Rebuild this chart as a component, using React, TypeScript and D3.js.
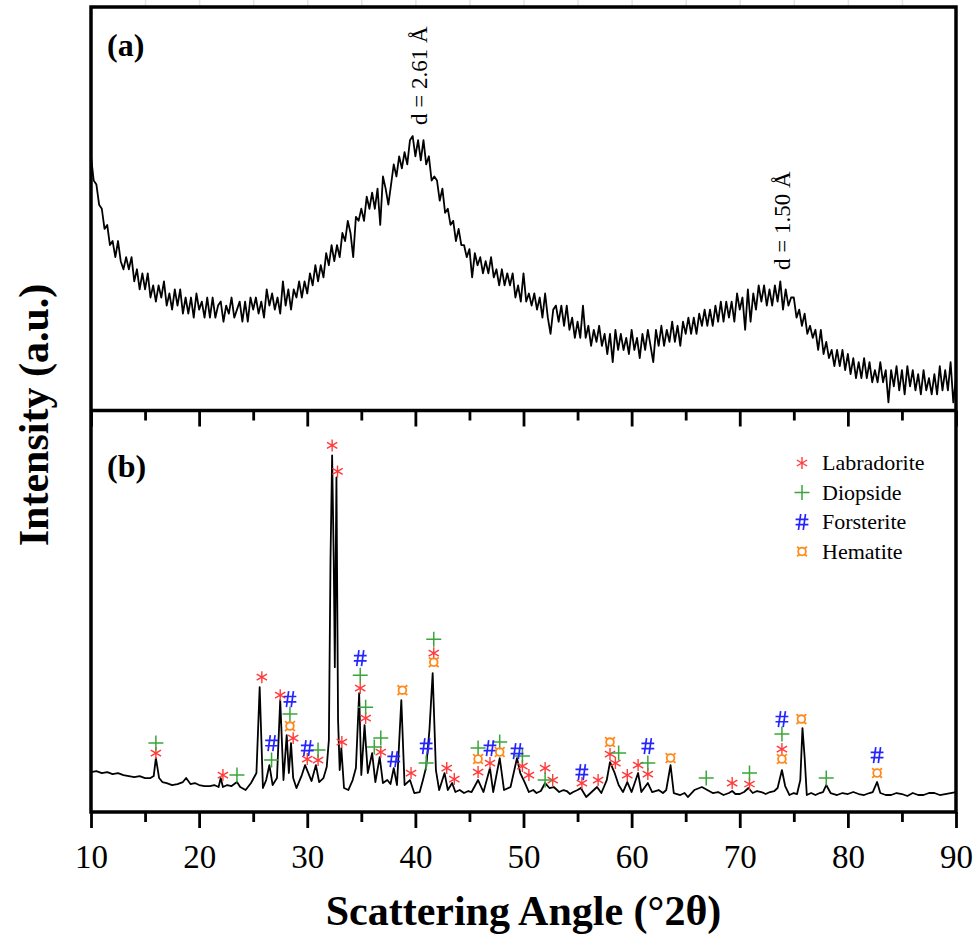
import React, { useRef, useEffect } from 'react';
import * as d3 from 'd3';

// (a) amorphous pattern, one reading every 0.25 deg from 10 to 90 (a.u., 0-100)
const topIntensity = [
  63, 57, 56, 51, 50, 45, 46, 41, 42, 38, 42, 37, 35, 38, 35, 38,
  32, 35, 30, 34, 30, 34, 28, 31, 27, 31, 28, 32, 26, 29, 25, 30,
  26, 30, 24, 28, 24, 28, 23, 29, 25, 27, 23, 28, 23, 28, 23, 26,
  27, 22, 26, 24, 28, 23, 25, 27, 22, 27, 22, 28, 25, 28, 24, 27,
  23, 30, 26, 29, 25, 28, 24, 32, 26, 30, 25, 30, 28, 32, 28, 32,
  29, 34, 31, 36, 32, 36, 33, 39, 36, 41, 37, 41, 38, 44, 42, 47,
  44, 38, 48, 47, 50, 47, 53, 50, 54, 50, 55, 46, 58, 55, 51, 56,
  61, 58, 63, 60, 64, 61, 67, 68, 63, 67, 62, 67, 61, 63, 57, 58,
  57, 52, 55, 49, 50, 46, 47, 42, 45, 41, 41, 38, 40, 33, 39, 36,
  38, 34, 37, 34, 38, 33, 35, 31, 35, 31, 34, 31, 34, 28, 31, 27,
  34, 27, 29, 26, 29, 25, 28, 23, 29, 23, 19, 25, 26, 22, 26, 21,
  26, 20, 23, 18, 22, 18, 26, 18, 21, 16, 20, 17, 21, 16, 19, 14,
  19, 12, 20, 15, 19, 15, 18, 14, 20, 15, 18, 13, 19, 15, 20, 16,
  12, 20, 16, 21, 16, 20, 17, 22, 17, 21, 16, 22, 19, 23, 19, 23,
  19, 24, 21, 25, 21, 25, 21, 26, 22, 27, 22, 27, 23, 27, 22, 29,
  25, 28, 20, 30, 22, 29, 25, 31, 27, 31, 26, 30, 26, 31, 27, 32,
  25, 30, 26, 28, 28, 23, 25, 21, 24, 19, 21, 18, 20, 15, 20, 14,
  17, 13, 15, 11, 15, 11, 15, 10, 14, 9, 13, 8, 12, 8, 13, 8,
  12, 7, 10, 7, 12, 7, 10, 2, 10, 6, 11, 5, 10, 4, 11, 6,
  10, 5, 9, 4, 10, 5, 8, 4, 9, 4, 11, 5, 10, 5, 12, 2,
  8,
];

// (b) crystalline pattern (counts)
const bottomAngle = [
  10, 10.5, 11, 11.5, 12, 12.5, 13, 13.5, 14, 14.5, 15, 15.5, 15.8, 16, 16.3, 16.6, 17, 17.5, 18, 18.5, 18.8,
  19.2, 19.6, 20, 20.5, 21, 21.4, 21.8, 22, 22.2, 22.6, 23, 23.5, 23.8, 24.3, 24.8, 25.3, 25.6, 25.9, 26.2, 26.5, 26.8, 27.2, 27.5, 27.8,
  28.1, 28.3, 28.5, 28.7, 29, 29.5, 29.8, 30.1, 30.4, 30.8, 31.1, 31.5, 31.8, 32, 32.15, 32.3, 32.45, 32.55, 32.7, 32.85,
  33, 33.15, 33.4, 33.8, 34.2, 34.5, 34.8, 35, 35.3, 35.6, 36, 36.3, 36.7, 37, 37.4, 37.7, 38, 38.3, 38.7, 39,
  39.5, 39.9, 40.4, 40.7, 41, 41.3, 41.6, 41.9, 42.2, 42.7, 43, 43.4, 43.7, 44.1, 44.5, 44.9, 45.2, 45.8, 46.3, 46.9, 47.2, 47.8,
  48.2, 48.8, 49.4, 49.7, 50.1, 50.5, 50.9, 51.2, 51.6, 52, 52.4, 52.8, 53.3, 53.7, 54, 54.3, 54.6, 55, 55.3, 55.8, 56.3, 56.8, 57.2, 57.7, 58,
  58.4, 58.8, 59.2, 59.6, 60, 60.6, 60.9, 61.5, 61.9, 62.5, 62.9, 63.2, 63.6, 63.9, 64.5, 64.9, 65.2, 65.8, 66.5, 67, 67.5, 68, 68.5,
  69, 69.3, 69.6, 70, 70.4, 70.8, 71.2, 71.6, 72, 72.4, 72.8, 73.2, 73.5, 73.9, 74.2, 74.6, 75, 75.3, 75.6, 75.8, 76, 76.2, 76.6, 77, 77.4, 77.7, 78, 78.4, 79,
  79.5, 80, 80.5, 81, 81.5, 82, 82.3, 82.7, 83, 83.5, 84, 84.5, 85, 85.5, 86, 86.5, 87, 87.5, 88, 88.5, 89, 89.5, 90,
];
const bottomCounts = [
  40, 41, 39, 40, 38, 39, 37, 36, 35, 36, 34, 34, 36, 54, 34, 30, 29, 27, 28, 30, 34,
  28, 29, 27, 26, 26, 27, 25, 34, 25, 27, 26, 30, 25, 22, 29, 39, 125, 24, 32, 47, 27, 34, 112, 32,
  77, 39, 69, 34, 24, 37, 47, 39, 31, 47, 30, 34, 45, 72, 252, 357, 252, 145, 335, 92,
  42, 64, 24, 22, 32, 44, 119, 37, 87, 39, 59, 30, 55, 29, 32, 28, 44, 27, 112, 27,
  32, 19, 20, 32, 45, 82, 139, 42, 22, 39, 22, 29, 20, 22, 19, 21, 20, 32, 20, 44, 20, 54,
  22, 25, 54, 39, 30, 20, 22, 19, 21, 29, 24, 25, 20, 22, 21, 18, 20, 22, 24, 15, 20, 25, 19, 32, 50,
  40, 27, 20, 30, 20, 39, 20, 29, 20, 22, 19, 22, 47, 19, 17, 19, 15, 22, 25, 22, 19, 20, 17,
  19, 21, 18, 18, 20, 24, 19, 21, 20, 18, 20, 21, 24, 42, 26, 17, 19, 18, 32, 84, 55, 17, 19, 17, 19, 20, 27, 19, 17,
  19, 18, 20, 18, 17, 19, 20, 30, 19, 17, 17, 19, 18, 16, 19, 17, 17, 19, 19, 17, 18, 19, 20,
];

// phase markers: angle and height (counts) of each symbol
const labradoriteX = [16.0, 22.2, 25.8, 27.5, 28.7, 30.0, 31.0, 32.3, 32.8, 33.2, 34.9, 35.4, 36.8, 39.6, 41.7, 42.9, 43.6,
  45.8, 46.9, 49.9, 50.5, 52.0, 52.7, 55.4, 56.9, 58.0, 58.5, 59.6, 60.6, 61.5, 69.3, 70.9, 73.9];
const labradoriteY = [59, 37, 135, 117, 74, 53, 52, 367, 341, 70, 124, 94, 60, 39, 159, 44, 33,
  40, 49, 46, 37, 44, 32, 29, 32, 58, 49, 37, 47, 38, 29, 28, 63];
const diopsideX = [16.0, 23.5, 26.7, 28.4, 31.0, 34.9, 35.4, 36.2, 36.8, 41.0, 41.7, 45.8, 47.8, 49.9, 52.0, 58.8, 61.5,
  66.9, 70.9, 73.9, 78.0];
const diopsideY = [69, 37, 52, 98, 62, 137, 105, 65, 74, 49, 173, 64, 70, 56, 32, 59, 49, 34, 39, 78, 34];
const forsteriteX = [26.7, 28.4, 30.0, 34.9, 38.0, 41.0, 46.9, 49.4, 55.4, 61.5, 73.9, 82.7];
const forsteriteY = [69, 113, 64, 154, 53, 66, 64, 61, 40, 66, 93, 57];
const hematiteX = [28.4, 38.8, 41.7, 45.8, 47.8, 58.0, 63.6, 73.9, 75.7, 82.7];
const hematiteY = [86, 122, 150, 53, 60, 70, 54, 53, 93, 39];

const legendNames = ['Labradorite', 'Diopside', 'Forsterite', 'Hematite'];
const phaseColors = ['#ff3b3b', '#3aa53a', '#2424ff', '#ff8a1c'];
const majorTicks = [10, 20, 30, 40, 50, 60, 70, 80, 90];
const minorTicks = [15, 25, 35, 45, 55, 65, 75, 85];

const serif = '"Liberation Serif", "Times New Roman", serif';

// hash sign and currency sign drawn as stroked symbols
const symbolHash = {
  draw(ctx: any, size: number) {
    const h = Math.sqrt(size) / 2;
    const w = h * 0.8;
    ctx.moveTo(-w * 0.2, -h); ctx.lineTo(-w * 0.55, h);
    ctx.moveTo(w * 0.55, -h); ctx.lineTo(w * 0.2, h);
    ctx.moveTo(-w, -h * 0.33); ctx.lineTo(w, -h * 0.33);
    ctx.moveTo(-w, h * 0.33); ctx.lineTo(w, h * 0.33);
  },
};
const symbolCurrency = {
  draw(ctx: any, size: number) {
    const r = Math.sqrt(size) / 2;
    const c = r * 0.55;
    ctx.moveTo(c, 0);
    ctx.arc(0, 0, c, 0, 2 * Math.PI);
    const d = r * 0.7;
    [[1, 1], [1, -1], [-1, 1], [-1, -1]].forEach(([sx, sy]) => {
      ctx.moveTo(sx * c * 0.7, sy * c * 0.7);
      ctx.lineTo(sx * d, sy * d);
    });
  },
};

const App = () => {
  const svgRef = useRef<SVGSVGElement>(null);

  useEffect(() => {
    const svg = d3.select(svgRef.current);
    svg.selectAll('*').remove();

    const left = 91, right = 956, top = 7, mid = 410.5, bottom = 812;

    const x = d3.scaleLinear().domain([10, 90]).range([left, right]);
    const yTop = d3.scaleLinear().domain([0, 100]).range([mid, top]);
    const yBot = d3.scaleLinear().domain([0, 402]).range([bottom, mid]);

    const topX = d3.range(topIntensity.length).map(i => 10 + i * 0.25);

    // faint ticks above the frame
    svg.append('g')
      .attr('transform', `translate(0,${top})`)
      .call(d3.axisTop(x).tickValues(d3.range(15, 90, 5)).tickSize(7).tickFormat(() => '').tickSizeOuter(0))
      .call(g => g.select('.domain').remove())
      .call(g => g.selectAll('line').attr('stroke', '#e4e4e4').attr('stroke-width', 1.5));

    // curves
    const lineTop = d3.line<number>().x((d, i) => x(topX[i])).y(d => yTop(d));
    svg.append('path')
      .attr('d', lineTop(topIntensity))
      .attr('fill', 'none')
      .attr('stroke', '#000')
      .attr('stroke-width', 1.8)
      .attr('stroke-linejoin', 'round');

    const lineBot = d3.line<number>().x((d, i) => x(bottomAngle[i])).y(d => yBot(d));
    svg.append('path')
      .attr('d', lineBot(bottomCounts))
      .attr('fill', 'none')
      .attr('stroke', '#000')
      .attr('stroke-width', 1.8)
      .attr('stroke-linejoin', 'round');

    // axes with outward ticks (middle divider and bottom)
    [mid, bottom].forEach((yPos, k) => {
      svg.append('g')
        .attr('transform', `translate(0,${yPos})`)
        .call(d3.axisBottom(x).tickValues(minorTicks).tickSize(10).tickFormat(() => '').tickSizeOuter(0))
        .call(g => g.select('.domain').remove())
        .call(g => g.selectAll('line').attr('stroke', '#000').attr('stroke-width', 2.8));
      const major = svg.append('g')
        .attr('transform', `translate(0,${yPos})`)
        .call(d3.axisBottom(x).tickValues(majorTicks).tickSize(16).tickSizeOuter(0))
        .call(g => g.select('.domain').remove())
        .call(g => g.selectAll('line').attr('stroke', '#000').attr('stroke-width', 2.8));
      if (k === 1) {
        major.selectAll('text')
          .attr('y', 56)
          .attr('dy', 0)
          .attr('fill', '#000')
          .style('font-family', serif)
          .style('font-size', '33px');
      } else {
        major.selectAll('text').remove();
      }
    });

    // frame
    svg.append('rect')
      .attr('x', left).attr('y', top)
      .attr('width', right - left).attr('height', bottom - top)
      .attr('fill', 'none').attr('stroke', '#000').attr('stroke-width', 3.5);
    svg.append('line')
      .attr('x1', left).attr('x2', right).attr('y1', mid).attr('y2', mid)
      .attr('stroke', '#000').attr('stroke-width', 3.5);

    // markers
    const symbolTypes: any[] = [d3.symbolAsterisk, d3.symbolPlus, symbolHash, symbolCurrency];
    const symbolSizes = [100, 75, 256, 196];
    const symbolWidths = [1.4, 1.5, 1.7, 1.8];
    const drawMark = (g: any, idx: number, px: number, py: number) => {
      g.append('path')
        .attr('d', d3.symbol(symbolTypes[idx], symbolSizes[idx])())
        .attr('transform', `translate(${px},${py})`)
        .attr('fill', 'none')
        .attr('stroke', phaseColors[idx])
        .attr('stroke-width', symbolWidths[idx]);
    };
    const markers = svg.append('g');
    const phases: [number[], number[]][] = [
      [labradoriteX, labradoriteY], [diopsideX, diopsideY], [forsteriteX, forsteriteY], [hematiteX, hematiteY],
    ];
    phases.forEach(([xs, ys], idx) => {
      xs.forEach((v, i) => drawMark(markers, idx, x(v), yBot(ys[i])));
    });

    // legend
    const legend = svg.append('g');
    legendNames.forEach((name, idx) => {
      const rowY = 463 + idx * 29.5;
      drawMark(legend, idx, 802, rowY);
      legend.append('text')
        .attr('x', 822).attr('y', rowY + 7)
        .style('font-family', serif).style('font-size', '22px')
        .text(name);
    });

    // labels
    svg.append('text')
      .attr('x', 107).attr('y', 56)
      .style('font-family', serif).style('font-size', '32px').style('font-weight', 'bold')
      .text('(a)');
    svg.append('text')
      .attr('x', 107).attr('y', 477)
      .style('font-family', serif).style('font-size', '32px').style('font-weight', 'bold')
      .text('(b)');

    svg.append('text')
      .attr('transform', 'translate(427,125) rotate(-90)')
      .style('font-family', serif).style('font-size', '23px')
      .text('d = 2.61 \u00c5');
    svg.append('text')
      .attr('transform', 'translate(790,270) rotate(-90)')
      .style('font-family', serif).style('font-size', '23px')
      .text('d = 1.50 \u00c5');

    svg.append('text')
      .attr('x', (left + right) / 2).attr('y', 925)
      .attr('text-anchor', 'middle')
      .style('font-family', serif).style('font-size', '42px').style('font-weight', 'bold')
      .text('Scattering Angle (\u00b02\u03b8)');
    svg.append('text')
      .attr('transform', 'translate(48,415) rotate(-90)')
      .attr('text-anchor', 'middle')
      .style('font-family', serif).style('font-size', '42px').style('font-weight', 'bold')
      .text('Intensity (a.u.)');
  }, []);

  return (
    <svg
      ref={svgRef}
      width={978}
      height={940}
      style={{ position: 'absolute', left: 0, top: 0, background: '#fff' }}
    />
  );
};

export default App;
